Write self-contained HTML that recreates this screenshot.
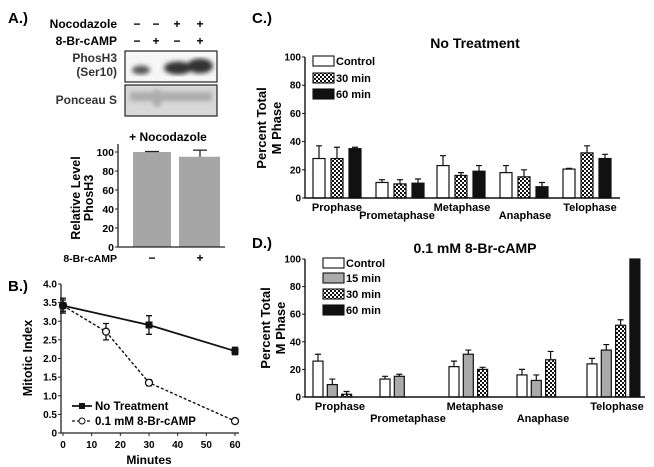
<!DOCTYPE html>
<html><head><meta charset="utf-8"><style>
body{margin:0;background:#fff;}
svg{display:block;font-family:"Liberation Sans",Arial,sans-serif;font-weight:bold;}
</style></head><body>
<svg id="fig" width="654" height="467" viewBox="0 0 654 467">
<defs>
<pattern id="chk" width="4" height="4" patternUnits="userSpaceOnUse"><rect width="4" height="4" fill="#fff"/><rect width="2" height="2" fill="#111"/><rect x="2" y="2" width="2" height="2" fill="#111"/></pattern>
<filter id="bl"><feGaussianBlur stdDeviation="2.5"/></filter>
</defs>
<g>
<text x="8" y="23" font-size="15">A.)</text>
<text x="117" y="28" font-size="12" text-anchor="end">Nocodazole</text>
<text x="117" y="45" font-size="12" text-anchor="end">8-Br-cAMP</text>
<g font-size="12" text-anchor="middle">
<text x="137" y="28">−</text><text x="156" y="28">−</text><text x="177" y="28">+</text><text x="200" y="28">+</text>
<text x="137" y="45">−</text><text x="156" y="45">+</text><text x="177" y="45">−</text><text x="200" y="45">+</text>
</g>
<text x="117" y="62" font-size="12" text-anchor="end" fill="#333">PhosH3</text>
<text x="117" y="76" font-size="12" text-anchor="end" fill="#333">(Ser10)</text>
<text x="117" y="104" font-size="12" text-anchor="end" fill="#333">Ponceau S</text>
<g>
<rect x="125" y="51" width="92" height="31" fill="#f6f6f6" stroke="#222" stroke-width="1.2"/>
<g filter="url(#bl)"><ellipse cx="141" cy="70" rx="9" ry="4.5" fill="#555"/><ellipse cx="178" cy="68" rx="14" ry="6.5" fill="#333"/><ellipse cx="200" cy="66" rx="13" ry="7.5" fill="#333"/></g>
</g>
<g>
<rect x="125" y="85" width="92" height="31" fill="#d8d8d8" stroke="#222" stroke-width="1.2"/>
<g filter="url(#bl)" opacity="0.7"><rect x="130" y="92" width="82" height="9" fill="#999"/><ellipse cx="157" cy="98" rx="5" ry="9" fill="#999"/></g>
</g>
<text x="168" y="141" font-size="12" text-anchor="middle">+ Nocodazole</text>
<g id="chartA"></g>
<g font-size="12.5" text-anchor="middle" transform="rotate(-90)"><text x="-198" y="80">Relative Level</text><text x="-198" y="93">PhosH3</text></g>
<text x="117" y="262" font-size="10.5" text-anchor="end">8-Br-cAMP</text>
</g>
<g>
<text x="8" y="291" font-size="15">B.)</text>
<g id="chartB"></g>
<text x="-358" y="32" font-size="12.5" text-anchor="middle" transform="rotate(-90)">Mitotic Index</text>
<text x="149" y="464" font-size="12" text-anchor="middle">Minutes</text>
</g>
<g>
<text x="252" y="23" font-size="15">C.)</text>
<text x="475" y="48" font-size="14" text-anchor="middle">No Treatment</text>
<g font-size="13" text-anchor="middle" transform="rotate(-90)"><text x="-128" y="266">Percent Total</text><text x="-128" y="281">M Phase</text></g>
<g id="chartC"></g>
</g>
<g>
<text x="252" y="248" font-size="15">D.)</text>
<text x="475" y="253" font-size="14" text-anchor="middle">0.1 mM 8-Br-cAMP</text>
<g font-size="13" text-anchor="middle" transform="rotate(-90)"><text x="-328" y="270">Percent Total</text><text x="-328" y="285">M Phase</text></g>
<g id="chartD"></g>
</g>
</svg>
<script>
// Panel A data
const aCats=["−","+"];
const aVals=[100,95];
const aErr=[0.5,7];
const aTicks=[0,20,40,60,80,100];
// Panel B data
const bNoTx=[3.42,2.9,2.2];
const bNoTxX=[0,30,60];
const bNoTxErr=[0.2,0.25,0.1];
const bCamp=[3.42,2.72,1.35,0.32];
const bCampX=[0,15,30,60];
const bCampErr=[0.15,0.22,0.08,0.05];
const bYTicks=["0","0.5","1.0","1.5","2.0","2.5","3.0","3.5","4.0"];
const bXTicks=[0,10,20,30,40,50,60];
// Panel C data
const phases=["Prophase","Prometaphase","Metaphase","Anaphase","Telophase"];
const cControl=[28,11,23,18,20.5];
const cControlErr=[9,2,7,5,0.5];
const c30=[28,10,16,15,32];
const c30Err=[8,3,2,5,5];
const c60=[35,10.5,19,8,28];
const c60Err=[1,3,4,3,3];
const pctTicks=[0,20,40,60,80,100];
// Panel D data
const dControl=[26,13,22,16,24];
const dControlErr=[5,2,4,4,4];
const d15=[9,15,31,12,34];
const d15Err=[4,1.5,3,4,4];
const d30=[2,0,20,27,52];
const d30Err=[2,0,1.5,6,4];
const d60=[0,0,0,0,100];
const d60Err=[0,0,0,0,0];

const NS="http://www.w3.org/2000/svg";
function mk(parent,tag,attrs,text){const e=document.createElementNS(NS,tag);for(const k in attrs)e.setAttribute(k,attrs[k]);if(text!==undefined)e.textContent=text;parent.appendChild(e);return e;}

// ---- Panel A
(function(){
const g=document.getElementById('chartA');
const x0=118,x1=225,yTop=152,yBot=247;
const y=v=>yBot-(v/100)*(yBot-yTop);
const bx=[133,179],bw=[38,41],cx=[152,200];
aVals.forEach((v,i)=>{
 const r=mk(g,'rect',{x:bx[i],y:y(v),width:bw[i],height:yBot-y(v),fill:'#a6a6a6'});
 
 
 mk(g,'path',{d:`M${cx[i]} ${y(v)}V${y(v+aErr[i])}M${cx[i]-7} ${y(v+aErr[i])}H${cx[i]+7}`,stroke:'#222','stroke-width':1.3,fill:'none'});
 const t=mk(g,'text',{x:cx[i],y:262,'font-size':12,'text-anchor':'middle'},aCats[i]);
 
 
});
mk(g,'path',{d:`M${x0} ${yTop-8}V${yBot}H${x1}`,stroke:'#222','stroke-width':1.3,fill:'none'});
aTicks.forEach(t=>{mk(g,'line',{x1:x0-3,x2:x0,y1:y(t),y2:y(t),stroke:'#222'});
 const tx=mk(g,'text',{x:x0-4,y:y(t)+4,'font-size':10.5,'text-anchor':'end'},t);
 
 });
})();

// ---- Panel B
(function(){
const g=document.getElementById('chartB');
const x0=61,yTop=284,yBot=433,xl=63,xr=235;
const X=v=>xl+(v/60)*(xr-xl);
const Y=v=>yBot-(v/4)*(yBot-yTop);
mk(g,'path',{d:`M${x0} ${yTop}V${yBot}H${xr+4}`,stroke:'#222','stroke-width':1.3,fill:'none'});
bYTicks.forEach(t=>{const v=parseFloat(t);mk(g,'line',{x1:x0-3,x2:x0,y1:Y(v),y2:Y(v),stroke:'#222'});
 const tx=mk(g,'text',{x:x0-4,y:Y(v)+3.5,'font-size':10,'text-anchor':'end'},t);
 
 });
bXTicks.forEach(t=>{mk(g,'line',{x1:X(t),x2:X(t),y1:yBot,y2:yBot+3,stroke:'#222'});
 const tx=mk(g,'text',{x:X(t),y:448,'font-size':10,'text-anchor':'middle'},t);
 
 });
function series(xs,vs,es,dash,name,filled){
 const l=mk(g,'polyline',{points:xs.map((x,i)=>X(x)+','+Y(vs[i])).join(' '),fill:'none',stroke:'#111','stroke-width':filled?1.8:1.4,'stroke-dasharray':dash});
 
 
 xs.forEach((x,i)=>{const cx=X(x),a=Y(vs[i]+es[i]),b=Y(vs[i]-es[i]);
  mk(g,'path',{d:`M${cx} ${a}V${b}M${cx-3} ${a}H${cx+3}M${cx-3} ${b}H${cx+3}`,stroke:'#111','stroke-width':1.3,fill:'none'});
  const m=filled?mk(g,'rect',{x:cx-3.5,y:Y(vs[i])-3.5,width:7,height:7,fill:'#111'}):mk(g,'circle',{cx:cx,cy:Y(vs[i]),r:3.5,fill:'#fff',stroke:'#111','stroke-width':1.3});
  
  });
}
series(bCampX,bCamp,bCampErr,'3,2','camp',false);
series(bNoTxX,bNoTx,bNoTxErr,'none','no-treatment',true);
const lg=mk(g,'g',{'font-size':11.5});


mk(lg,'line',{x1:72,x2:92,y1:406,y2:406,stroke:'#111','stroke-width':1.8});
mk(lg,'rect',{x:79,y:403,width:6,height:6,fill:'#111'});
mk(lg,'text',{x:95,y:410},'No Treatment');
mk(lg,'line',{x1:72,x2:92,y1:421,y2:421,stroke:'#111','stroke-width':1.3,'stroke-dasharray':'3,2'});
mk(lg,'circle',{cx:82,cy:421,r:3,fill:'#fff',stroke:'#111'});
mk(lg,'text',{x:95,y:425},'0.1 mM 8-Br-cAMP');
})();

// ---- bar panels
function barPanel(id,cfg){
 const g=document.getElementById(id);
 const Y=v=>cfg.yBot-(v/100)*(cfg.yBot-cfg.yTop);
 cfg.series.forEach((s,si)=>{
  s.vals.forEach((v,pi)=>{
   if(v<=0)return;
   const x=cfg.gStart[pi]+si*cfg.step;
   const r=mk(g,'rect',{x:x,y:Y(v),width:cfg.bw,height:cfg.yBot-Y(v),fill:s.fill,stroke:'#111','stroke-width':1.2});
   
   
   if(s.err[pi]>0){const cx=x+cfg.bw/2,t=Y(v+s.err[pi]);
    mk(g,'path',{d:`M${cx} ${Y(v)}V${t}M${cx-3} ${t}H${cx+3}`,stroke:'#111','stroke-width':1.2,fill:'none'});}
  });
 });
 mk(g,'path',{d:`M${cfg.x0} ${cfg.yTop}V${cfg.yBot}H${cfg.x1}`,stroke:'#111','stroke-width':1.4,fill:'none'});
 pctTicks.forEach(t=>{mk(g,'line',{x1:cfg.x0-3,x2:cfg.x0,y1:Y(t),y2:Y(t),stroke:'#111'});
  const tx=mk(g,'text',{x:cfg.x0-4,y:Y(t)+3.5,'font-size':10,'text-anchor':'end'},t);
  
  });
 phases.forEach((p,i)=>{const tx=mk(g,'text',{x:cfg.lx[i],y:i%2?cfg.ly2:cfg.ly1,'font-size':11,'text-anchor':'middle'},p);
  
  });
 cfg.series.forEach((s,si)=>{const ly=cfg.legY[si];
  const lr=mk(g,'rect',{x:cfg.legX,y:ly-5,width:21,height:10,fill:s.fill,stroke:'#111','stroke-width':1.1});
  
  
  const lt=mk(g,'text',{x:cfg.legX+23,y:ly+4,'font-size':11},s.label);
  
  });
}
barPanel('chartC',{x0:305,x1:620,yTop:57,yBot:198,bw:12,step:18,gStart:[313,376,437,500,563],
 lx:[337,397,462,525,590],ly1:211,ly2:219,legX:313,legY:[61,78,94],
 series:[{name:'control',label:'Control',vals:cControl,err:cControlErr,fill:'#fff'},
 {name:'30-min',label:'30 min',vals:c30,err:c30Err,fill:'url(#chk)'},
 {name:'60-min',label:'60 min',vals:c60,err:c60Err,fill:'#111'}]});
barPanel('chartD',{x0:305,x1:645,yTop:259,yBot:397,bw:10,step:14.3,gStart:[313,380,449,517,587],
 lx:[340,408,475,543,617],ly1:410,ly2:422,legX:323,legY:[263,278,294,310],
 series:[{name:'control',label:'Control',vals:dControl,err:dControlErr,fill:'#fff'},
 {name:'15-min',label:'15 min',vals:d15,err:d15Err,fill:'#aaa'},
 {name:'30-min',label:'30 min',vals:d30,err:d30Err,fill:'url(#chk)'},
 {name:'60-min',label:'60 min',vals:d60,err:d60Err,fill:'#111'}]});
</script>
</body></html>
